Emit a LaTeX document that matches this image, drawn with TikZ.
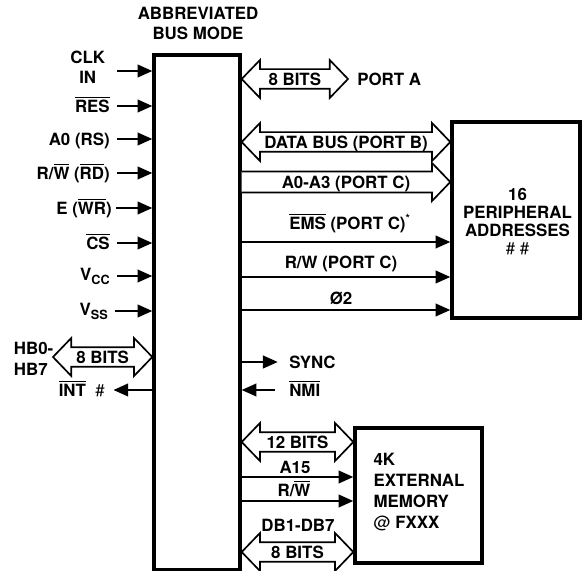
\documentclass[tikz,border=0pt]{standalone}
\usepackage{fontspec}
\setmainfont{TeX Gyre Heros}
\usepackage{tikz}
\usetikzlibrary{
  arrows.meta,%
  calc,%
  fit,%
  positioning
}
\tikzset{>=latex}
\tikzset{
  box/.style={draw, line width=2.4pt, inner sep=0pt},
  lbl/.style={inner sep=0pt, text height=8.6pt, text depth=0pt},
  sig/.style={line width=1.4pt, -{Triangle[length=10.5pt, width=9pt]}},
  bus/.style={draw, line width=1.2pt, fill=white, line join=miter}
}
% overlined signal names
\newcommand{\ovl}[1]{$\overline{\mbox{#1}}$}
% wide bus arrow, heads at both ends
\newcommand{\dblbus}[4]{%
  \draw[bus] (#1) -- ($(#1)+(13pt,13.5pt)$) -- ($(#1)+(13pt,7pt)$)%
    -- ($(#2)+(-13pt,7pt)$) -- ($(#2)+(-13pt,13.5pt)$) -- (#2)%
    -- ($(#2)+(-13pt,-13.5pt)$) -- ($(#2)+(-13pt,-7pt)$)%
    -- ($(#1)+(13pt,-7pt)$) -- ($(#1)+(13pt,-13.5pt)$) -- cycle;%
  \path (#1) -- node[lbl] (#4) {#3} (#2);}
% wide bus arrow, head at the right end only
\newcommand{\onebus}[4]{%
  \draw[bus] ($(#1)+(0,7.5pt)$) -- ($(#2)+(-13pt,7.5pt)$) -- ($(#2)+(-13pt,13.5pt)$)%
    -- (#2) -- ($(#2)+(-13pt,-13.5pt)$) -- ($(#2)+(-13pt,-7.5pt)$) -- ($(#1)+(0,-7.5pt)$);%
  \path (#1) -- node[lbl] (#4) {#3} (#2);}

\begin{document}
\begin{tikzpicture}[x=0.25cm, y=-0.25cm, font=\fontsize{12}{14.2}\selectfont\bfseries]
  \useasboundingbox (0,0) rectangle (58.2,57.1);
  % blocks
  \node[box, fit={(15.4,5.5) (24.0,57.0)}] (main) {};
  \node[box, fit={(45.2,12.2) (58.0,31.8)}] (periph) {};
  \node[box, fit={(35.5,42.8) (48.2,56.3)}] (mem) {};
  \node[align=center, font=\fontsize{12}{12.8}\selectfont\bfseries] (periphtxt) at (51.75,22.2)
    {16\\PERIPHERAL\\ADDRESSES\\{\mdseries\# \#}};
  \node[align=left, font=\fontsize{12}{14.9}\selectfont\bfseries] (memtxt) at (41.9,49.2)
    {4K\\EXTERNAL\\MEMORY\\{\mdseries @} FXXX};
  \node[align=center] (title) at (19.8,2.3) {ABBREVIATED\\BUS MODE};
  % inputs on the left
  \node[align=center, anchor=east] (clk) at (11.0,6.75) {CLK\\IN};
  \node[lbl, anchor=east] (res) at (11.0,10.6) {\ovl{RES}};
  \node[lbl, anchor=east] (a0) at (11.0,13.9) {A0 (RS)};
  \node[lbl, anchor=east] (rw) at (11.0,17.3) {R/\ovl{W} (\ovl{RD})};
  \node[lbl, anchor=east] (e) at (11.2,20.8) {E (\ovl{WR})};
  \node[lbl, anchor=east] (cs) at (11.0,24.3) {\ovl{CS}};
  \node[lbl, anchor=east] (vcc) at (11.0,27.4) {V\raisebox{-0.45ex}{\fontsize{9}{9}\selectfont CC}};
  \node[lbl, anchor=east] (vss) at (10.8,30.9) {V\raisebox{-0.45ex}{\fontsize{9}{9}\selectfont SS}};
  \draw[sig, shorten <=5pt] (clk.east |- 0,7.1) -- (main.west |- 0,7.1);
  \draw[sig, shorten <=5pt] (res.east) -- (main.west |- res);
  \draw[sig, shorten <=5pt] (a0.east) -- (main.west |- a0);
  \draw[sig, shorten <=5pt] (rw.east) -- (main.west |- rw);
  \draw[sig, shorten <=3pt] (e.east) -- (main.west |- e);
  \draw[sig, shorten <=5pt] (cs.east) -- (main.west |- cs);
  \draw[sig, shorten <=5pt] (vcc.east |- 0,27.6) -- (main.west |- 0,27.6);
  \draw[sig, shorten <=5pt] (vss.east |- 0,31.1) -- (main.west |- 0,31.1);
  \node[align=left, anchor=west, font=\fontsize{12}{14.9}\selectfont\bfseries] (hb) at (0.9,35.85) {HB0-\\HB7};
  \coordinate (hbend) at (5.3,35.7);
  \dblbus{hbend}{main.west |- hbend}{8 BITS}{hbbits}
  \node[lbl, anchor=east] (int) at (10.5,39.0) {\ovl{INT}\ \ {\mdseries\#}};
  \draw[sig, shorten >=6pt] (main.west |- int) -- (int.east);
  % port A and peripheral side
  \coordinate (pa) at (34.8,7.9);
  \dblbus{main.east |- pa}{pa}{8 BITS}{pabits}
  \node[lbl, anchor=west] (porta) at (35.7,7.9) {PORT A};
  \dblbus{main.east |- 0,14.2}{periph.west |- 0,14.2}{DATA BUS (PORT B)}{pbbus}
  \onebus{main.east |- 0,18.2}{periph.west |- 0,18.2}{A0-A3 (PORT C)}{pcbus}
  \node[lbl] (ems) at (35.0,22.3) {\ovl{EMS} (PORT C)\textsuperscript{*}};
  \node[lbl] (prw) at (34.1,26.2) {R/W (PORT C)};
  \node[lbl] (phi) at (34.1,29.8) {Ø2};
  \foreach \y in {24.2,27.7,31.0}
    \draw[sig] (main.east |- 0,\y) -- (periph.west |- 0,\y);
  \node[lbl, anchor=west] (sync) at (28.9,36.2) {SYNC};
  \node[lbl, anchor=west] (nmi) at (28.9,39.0) {\ovl{NMI}};
  \draw[sig, shorten >=8pt] (main.east |- sync) -- (sync.west);
  \draw[sig, shorten <=10pt] (nmi.west) -- (main.east |- nmi);
  % external memory
  \dblbus{main.east |- 0,44.2}{mem.west |- 0,44.2}{12 BITS}{membits}
  \dblbus{main.east |- 0,55.2}{mem.west |- 0,55.2}{8 BITS}{dbbits}
  \foreach \y in {47.7,50.1}
    \draw[sig] (main.east |- 0,\y) -- (mem.west |- 0,\y);
  \node[lbl] (a15) at (29.5,46.7) {A15};
  \node[lbl] (mrw) at (29.4,49.0) {R/\ovl{W}};
  \node[lbl] (db) at (29.8,52.5) {DB1-DB7};
\end{tikzpicture}
\end{document}
